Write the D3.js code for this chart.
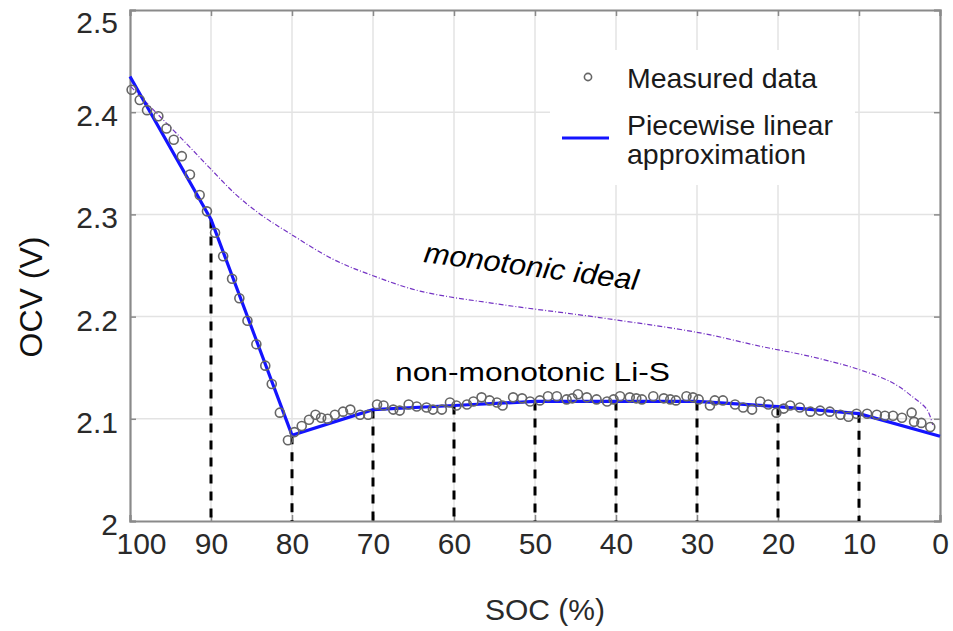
<!DOCTYPE html>
<html>
<head>
<meta charset="utf-8">
<script src="https://cdn.jsdelivr.net/npm/d3@7"></script>
<style>
  html, body { margin: 0; padding: 0; background: #fff; }
  svg { display: block; font-family: "Liberation Sans", Arial, Helvetica, sans-serif; }
</style>
</head>
<body>
<svg id="chart" width="953" height="631"></svg>
<script>
// Measured open-circuit voltage of the Li-S cell vs. state of charge
const socMeasured = [99.8, 98.8, 97.9, 96.5, 95.5, 94.6, 93.6, 92.6, 91.4, 90.5,
  89.5, 88.5, 87.4, 86.5, 85.5, 84.4, 83.3, 82.5, 81.5, 80.5,
  79.7, 78.8, 77.9, 77.1, 76.4, 75.6, 74.7, 73.7, 72.8, 71.6,
  70.6, 69.5, 68.7, 67.5, 66.7, 65.6, 64.6, 63.4, 62.6, 61.5,
  60.5, 59.7, 58.4, 57.6, 56.6, 55.6, 54.7, 54.0, 52.7, 51.6,
  50.6, 49.4, 48.4, 47.3, 46.1, 45.4, 44.7, 43.6, 42.4, 41.1,
  40.3, 39.5, 38.3, 37.5, 36.8, 35.4, 34.1, 33.3, 32.6, 31.3,
  30.5, 29.8, 28.4, 27.8, 26.8, 25.3, 24.3, 23.2, 22.2, 21.2,
  20.2, 19.3, 18.5, 17.3, 16.0, 14.8, 13.6, 12.3, 11.3, 10.3,
  9.0, 7.8, 6.8, 5.8, 4.7, 3.5, 3.2, 2.3, 1.2];
const ocvMeasured = [2.422, 2.412, 2.402, 2.396, 2.384, 2.373, 2.357, 2.339, 2.319, 2.303,
  2.282, 2.259, 2.237, 2.218, 2.196, 2.173, 2.152, 2.134, 2.106, 2.079,
  2.087, 2.093, 2.099, 2.104, 2.101, 2.100, 2.104, 2.107, 2.109, 2.104,
  2.104, 2.114, 2.113, 2.109, 2.108, 2.114, 2.112, 2.111, 2.109, 2.109,
  2.116, 2.113, 2.114, 2.117, 2.121, 2.118, 2.116, 2.113, 2.121, 2.120,
  2.117, 2.118, 2.122, 2.122, 2.119, 2.120, 2.124, 2.121, 2.119, 2.117,
  2.119, 2.122, 2.121, 2.120, 2.119, 2.122, 2.120, 2.119, 2.118, 2.122,
  2.121, 2.119, 2.113, 2.118, 2.118, 2.114, 2.111, 2.109, 2.117, 2.114,
  2.106, 2.110, 2.113, 2.111, 2.107, 2.108, 2.107, 2.104, 2.102, 2.105,
  2.105, 2.104, 2.103, 2.103, 2.101, 2.106, 2.097, 2.096, 2.092];

// Piecewise linear approximation, one breakpoint every 10 % SOC
const socBreaks = [100, 90, 80, 70, 60, 50, 40, 30, 20, 10, 0];
const ocvBreaks = [2.435, 2.295, 2.084, 2.109, 2.113, 2.117, 2.117, 2.117, 2.112, 2.105, 2.083];

// Reference shape of an ideal monotonic OCV curve
const socIdeal = [99.9, 96.7, 93.0, 90.1, 87.0, 83.9, 80.2, 74.9, 70.0, 64.2,
  54.3, 42.0, 29.6, 22.2, 16.0, 9.9, 5.8, 3.3, 1.6, 0.9];
const ocvIdeal = [2.425, 2.399, 2.369, 2.345, 2.320, 2.300, 2.281, 2.256, 2.240, 2.225,
  2.212, 2.199, 2.184, 2.171, 2.161, 2.148, 2.135, 2.121, 2.109, 2.094];

// Axis ticks
const xTicks = [100, 90, 80, 70, 60, 50, 40, 30, 20, 10, 0];
const yTicks = [2, 2.1, 2.2, 2.3, 2.4, 2.5];

const svg = d3.select("#chart");
const plotLeft = 130, plotRight = 940, plotTop = 10, plotBottom = 521;

const x = d3.scaleLinear().domain([100, 0]).range([plotLeft, plotRight]);
const y = d3.scaleLinear().domain([2, 2.5]).range([plotBottom, plotTop]);

// grid
const grid = svg.append("g").attr("stroke", "#e3e3e3").attr("stroke-width", 1.5);
grid.selectAll("line.v").data(xTicks.slice(1, -1)).join("line").attr("class", "v")
  .attr("x1", d => x(d)).attr("x2", d => x(d)).attr("y1", plotTop).attr("y2", plotBottom);
grid.selectAll("line.h").data(yTicks.slice(1, -1)).join("line").attr("class", "h")
  .attr("x1", plotLeft).attr("x2", plotRight).attr("y1", d => y(d)).attr("y2", d => y(d));

// axes (box with inward ticks)
const axisColor = "#8a8a8a";
const gx = svg.append("g").attr("transform", `translate(0,${plotBottom})`)
  .call(d3.axisBottom(x).tickValues(xTicks).tickSize(-6).tickPadding(12).tickFormat(d3.format("d")));
const gxTop = svg.append("g").attr("transform", `translate(0,${plotTop})`)
  .call(d3.axisTop(x).tickValues(xTicks).tickSize(-6).tickFormat(""));
const gy = svg.append("g").attr("transform", `translate(${plotLeft},0)`)
  .call(d3.axisLeft(y).tickValues(yTicks).tickSize(-6).tickPadding(12).tickFormat(d => d === 2 ? "2" : d3.format(".1f")(d)));
const gyRight = svg.append("g").attr("transform", `translate(${plotRight},0)`)
  .call(d3.axisRight(y).tickValues(yTicks).tickSize(-6).tickFormat(""));
[gx, gxTop, gy, gyRight].forEach(g => {
  g.select(".domain").attr("stroke", axisColor).attr("stroke-width", 2.2);
  g.selectAll(".tick line").attr("stroke", axisColor).attr("stroke-width", 1.5);
});
gx.selectAll(".tick text").attr("font-size", 30).attr("fill", "#2a2a2a").attr("dy", "0.71em")
  .attr("dx", d => d === 100 ? 11 : 0);
gy.selectAll(".tick text").attr("font-size", 30).attr("fill", "#2a2a2a")
  .attr("dy", d => d === 2.5 ? "0.75em" : "0.45em");

// axis titles
svg.append("text").attr("x", 545).attr("y", 620).attr("text-anchor", "middle")
  .attr("font-size", 30).attr("fill", "#2a2a2a").text("SOC (%)");
svg.append("text").attr("transform", "translate(42,297) rotate(-90)").attr("text-anchor", "middle")
  .attr("font-size", 32).attr("fill", "#111").text("OCV (V)");

// dashed drop lines from each interior breakpoint
const drops = socBreaks.map((s, i) => ({ s, v: ocvBreaks[i] })).slice(1, -1);
svg.append("g").selectAll("line").data(drops).join("line")
  .attr("x1", d => x(d.s)).attr("x2", d => x(d.s))
  .attr("y1", d => y(d.v)).attr("y2", plotBottom)
  .attr("stroke", "#000").attr("stroke-width", 3).attr("stroke-dasharray", "9,8");

// ideal monotonic curve
const ideal = socIdeal.map((s, i) => [s, ocvIdeal[i]]);
svg.append("path").datum(ideal)
  .attr("d", d3.line().x(d => x(d[0])).y(d => y(d[1])).curve(d3.curveCatmullRom))
  .attr("fill", "none").attr("stroke", "#7434c4").attr("stroke-width", 1.2)
  .attr("stroke-dasharray", "5,2,1,2");

// piecewise linear approximation
const pw = socBreaks.map((s, i) => [s, ocvBreaks[i]]);
svg.append("path").datum(pw)
  .attr("d", d3.line().x(d => x(d[0])).y(d => y(d[1])))
  .attr("fill", "none").attr("stroke", "#1414ff").attr("stroke-width", 3.2);

// measured points
const meas = socMeasured.map((s, i) => [s, ocvMeasured[i]]);
svg.append("g").selectAll("circle").data(meas).join("circle")
  .attr("cx", d => x(d[0])).attr("cy", d => y(d[1])).attr("r", 4.5)
  .attr("fill", "none").attr("stroke", "#666").attr("stroke-width", 1.6);

// legend
const lg = svg.append("g");
lg.append("rect").attr("x", 550).attr("y", 50).attr("width", 305).attr("height", 135).attr("fill", "#fff");
lg.append("circle").attr("cx", 588).attr("cy", 77).attr("r", 3.6)
  .attr("fill", "none").attr("stroke", "#666").attr("stroke-width", 1.6);
lg.append("line").attr("x1", 562).attr("x2", 609).attr("y1", 138).attr("y2", 138)
  .attr("stroke", "#1414ff").attr("stroke-width", 3);
lg.append("text").attr("x", 627).attr("y", 88).attr("font-size", 28.5).attr("fill", "#1a1a1a").text("Measured data");
lg.append("text").attr("x", 627).attr("y", 135).attr("font-size", 28.5).attr("fill", "#1a1a1a").text("Piecewise linear");
lg.append("text").attr("x", 627).attr("y", 164).attr("font-size", 28.5).attr("fill", "#1a1a1a").text("approximation");

// annotations
svg.append("text").attr("x", 395).attr("y", 381).attr("font-size", 26)
  .attr("textLength", 275).attr("lengthAdjust", "spacingAndGlyphs").attr("fill", "#000")
  .text("non-monotonic Li-S");
svg.append("text").attr("transform", "translate(423,262) rotate(7.5)")
  .attr("font-size", 29).attr("font-style", "italic").attr("fill", "#000")
  .attr("textLength", 216).attr("lengthAdjust", "spacingAndGlyphs")
  .text("monotonic ideal");
</script>
</body>
</html>
